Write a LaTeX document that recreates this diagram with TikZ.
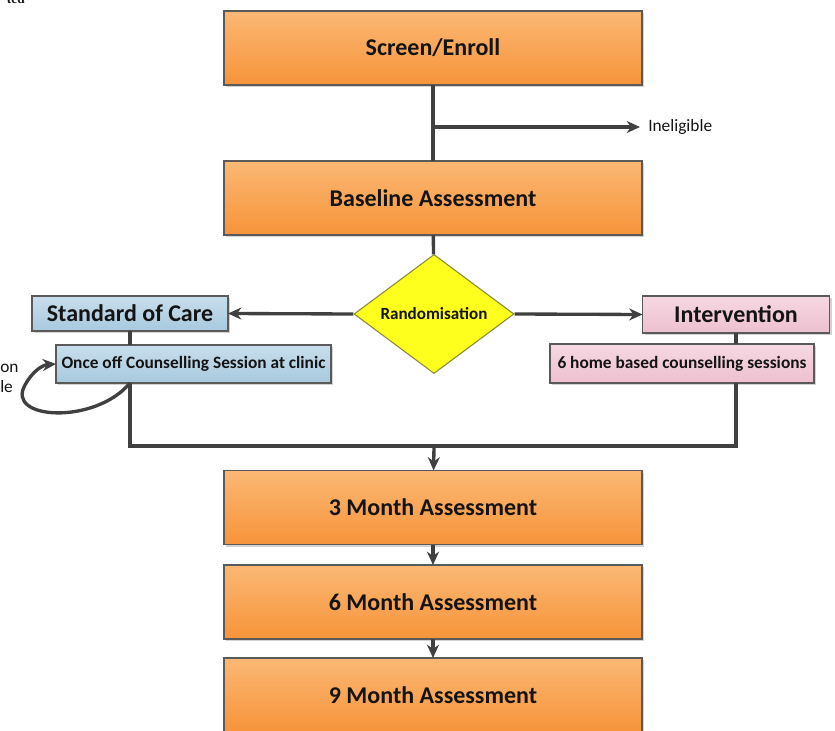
\documentclass[tikz,border=0pt]{standalone}
\usepackage{fontspec}
\setmainfont{Carlito}
\newfontfamily\serifcut{Liberation Serif}
\usepackage{tikz}
\usetikzlibrary{positioning,calc,shapes.geometric,shadows,arrows.meta}
\definecolor{boxline}{HTML}{5A5A5A}
\definecolor{flowline}{HTML}{404040}
\definecolor{txt}{HTML}{141414}
\definecolor{ortop}{HTML}{FBB874}
\definecolor{orbot}{HTML}{F6943A}
\definecolor{soctop}{HTML}{C8DEEC}
\definecolor{socbot}{HTML}{A8C9DE}
\definecolor{inttop}{HTML}{F6D8E2}
\definecolor{intbot}{HTML}{EDC0CF}
\definecolor{randfill}{HTML}{FFFF1E}
\definecolor{randline}{HTML}{8A8A3A}
\tikzset{
  box/.style={draw=boxline, line width=0.8pt, inner sep=0pt, outer sep=0pt, text=txt,
              drop shadow={shadow xshift=1.5pt, shadow yshift=-1.5pt, opacity=0.35}},
  visit/.style={box, top color=ortop, bottom color=orbot, minimum width=313.5pt,
                minimum height=55.5pt, font=\bfseries\fontsize{18}{21}\selectfont},
  soc/.style={box, top color=soctop, bottom color=socbot},
  arm/.style={box, top color=inttop, bottom color=intbot},
  armhead/.style={font=\bfseries\fontsize{18}{21}\selectfont},
  armsub/.style={font=\bfseries\fontsize{13}{15}\selectfont},
  decide/.style={diamond, draw=randline, line width=0.8pt, fill=randfill, inner sep=0pt,
                 minimum width=120pt, minimum height=88.5pt, text=txt,
                 font=\bfseries\fontsize{12.8}{15}\selectfont},
  flow/.style={-{Stealth[length=10pt, width=9pt]}, draw=flowline, line width=2.5pt},
  link/.style={draw=flowline, line width=2.5pt},
  side/.style={text=txt, font=\fontsize{13}{15}\selectfont},
}

\begin{document}
\begin{tikzpicture}[x=0.75pt, y=-0.75pt]
  \useasboundingbox (0,0) rectangle (835,731);
  % visits
  \node[visit] (screen) at (433,48) {Screen/Enroll};
  \node[visit] (base) at (433,198) {Baseline Assessment};
  \node[decide] (rand) at (434,314) {Randomisation};
  % arms
  \node[soc, armhead, minimum width=147pt, minimum height=26.25pt] (soc) at (130,313.5) {Standard of Care};
  \node[soc, armsub, minimum width=206.25pt, minimum height=28.5pt] (once) at (193.5,364) {Once off Counselling Session at clinic};
  \node[arm, armhead, minimum width=140.25pt, minimum height=27.75pt] (int) at (736,314.5) {Intervention};
  \node[arm, armsub, minimum width=198pt, minimum height=29.25pt] (home) at (682,363.5) {6 home based counselling sessions};
  % follow-up
  \node[visit] (m3) at (433,507.5) {3 Month Assessment};
  \node[visit] (m6) at (433,602) {6 Month Assessment};
  \node[visit] (m9) at (433,695) {9 Month Assessment};
  % side texts
  \node[side, anchor=west, inner sep=0pt] (inelig) at (648,127) {Ineligible};
  \node[side, anchor=base west, inner sep=0pt] (cuta) at (0,372) {on};
  \node[side, anchor=base west, inner sep=0pt] (cutb) at (0,392) {le};
  \node[anchor=base east, inner sep=0pt, text=txt, font=\serifcut\bfseries\fontsize{10}{12}\selectfont] (cutc) at (25,4) {ted};
  \coordinate (excl) at (433,127);
  \coordinate (merge) at (434,446);
  % connectors
  \draw[link] (screen) -- (base);
  \draw[flow, shorten >=6pt] (excl) -- (inelig.west);
  \draw[link] (base) -- (rand);
  \draw[flow] (rand.west) -- (soc.east);
  \draw[flow] (rand.east) -- (int.west);
  \draw[link] (soc.south) -- (soc.south |- once.north);
  \draw[link] (int.south) -- (int.south |- home.north);
  \draw[link] (once.south -| soc.south) |- (merge) -| (home.south -| int.south);
  \draw[flow] (once.south -| soc.south) .. controls (95,425) and (5,420) .. (25,385)
              .. controls (32,372) and (42,365) .. (once.west);
  \foreach \a/\b in {merge/m3,m3/m6,m6/m9} \draw[flow] (\a) -- (\b);
\end{tikzpicture}
\end{document}
